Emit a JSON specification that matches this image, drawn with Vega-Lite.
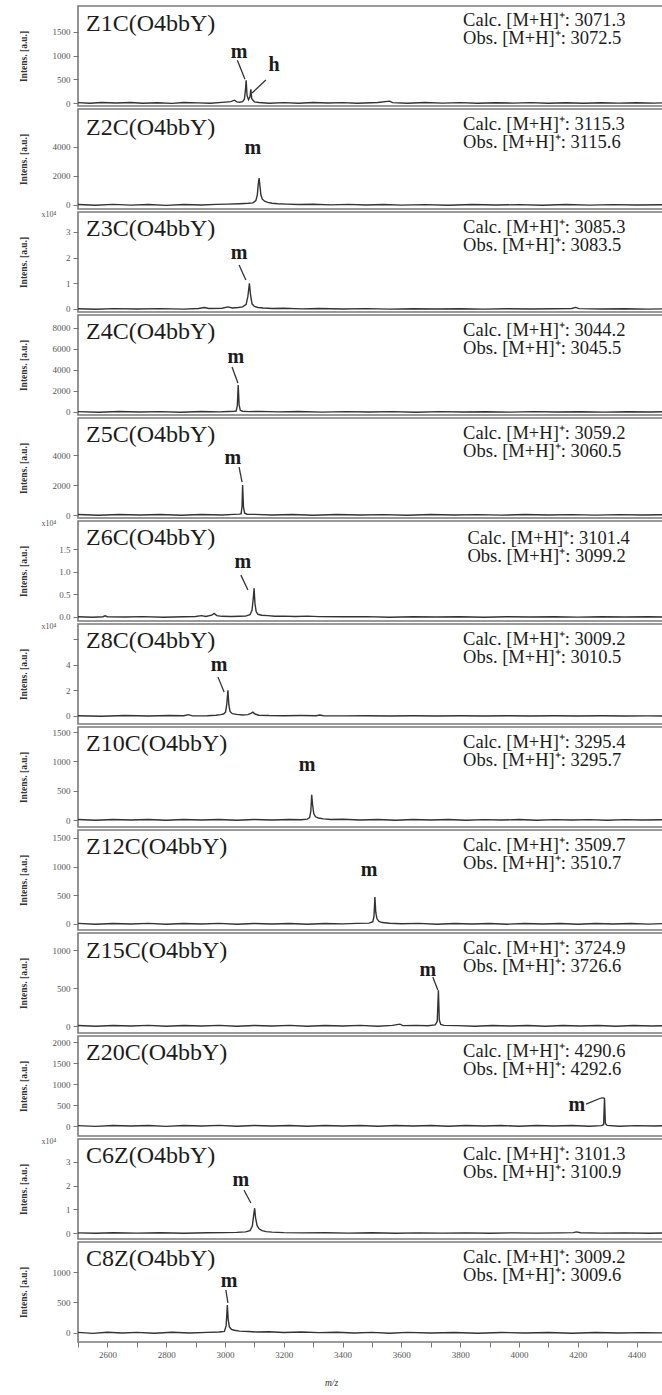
{
  "$schema": "https://vega.github.io/schema/vega-lite/v6.json",
  "padding": {"left": 17, "top": 5, "right": 0, "bottom": 0},
  "background": "white",
  "bounds": "flush",
  "spacing": 3,
  "datasets": {
    "info": [
      {"p": "Z1C", "name": "Z1C(O4bbY)", "calc": "Calc. [M+H]⁺: 3071.3", "obs": "Obs. [M+H]⁺: 3072.5", "exp": ""},
      {"p": "Z2C", "name": "Z2C(O4bbY)", "calc": "Calc. [M+H]⁺: 3115.3", "obs": "Obs. [M+H]⁺: 3115.6", "exp": ""},
      {"p": "Z3C", "name": "Z3C(O4bbY)", "calc": "Calc. [M+H]⁺: 3085.3", "obs": "Obs. [M+H]⁺: 3083.5", "exp": "x10⁴"},
      {"p": "Z4C", "name": "Z4C(O4bbY)", "calc": "Calc. [M+H]⁺: 3044.2", "obs": "Obs. [M+H]⁺: 3045.5", "exp": ""},
      {"p": "Z5C", "name": "Z5C(O4bbY)", "calc": "Calc. [M+H]⁺: 3059.2", "obs": "Obs. [M+H]⁺: 3060.5", "exp": ""},
      {"p": "Z6C", "name": "Z6C(O4bbY)", "calc": "Calc. [M+H]⁺: 3101.4", "obs": "Obs. [M+H]⁺: 3099.2", "exp": "x10⁴"},
      {"p": "Z8C", "name": "Z8C(O4bbY)", "calc": "Calc. [M+H]⁺: 3009.2", "obs": "Obs. [M+H]⁺: 3010.5", "exp": "x10⁴"},
      {"p": "Z10C", "name": "Z10C(O4bbY)", "calc": "Calc. [M+H]⁺: 3295.4", "obs": "Obs. [M+H]⁺: 3295.7", "exp": ""},
      {"p": "Z12C", "name": "Z12C(O4bbY)", "calc": "Calc. [M+H]⁺: 3509.7", "obs": "Obs. [M+H]⁺: 3510.7", "exp": ""},
      {"p": "Z15C", "name": "Z15C(O4bbY)", "calc": "Calc. [M+H]⁺: 3724.9", "obs": "Obs. [M+H]⁺: 3726.6", "exp": ""},
      {"p": "Z20C", "name": "Z20C(O4bbY)", "calc": "Calc. [M+H]⁺: 4290.6", "obs": "Obs. [M+H]⁺: 4292.6", "exp": ""},
      {"p": "C6Z", "name": "C6Z(O4bbY)", "calc": "Calc. [M+H]⁺: 3101.3", "obs": "Obs. [M+H]⁺: 3100.9", "exp": "x10⁴"},
      {"p": "C8Z", "name": "C8Z(O4bbY)", "calc": "Calc. [M+H]⁺: 3009.2", "obs": "Obs. [M+H]⁺: 3009.6", "exp": ""}
    ],
    "lab": [
      {"p": "Z1C", "t": "m", "mz": 3048, "i": 1076},
      {"p": "Z1C", "t": "h", "mz": 3167, "i": 802},
      {"p": "Z2C", "t": "m", "mz": 3095, "i": 3931},
      {"p": "Z3C", "t": "m", "mz": 3048, "i": 2.18},
      {"p": "Z4C", "t": "m", "mz": 3037, "i": 5238},
      {"p": "Z5C", "t": "m", "mz": 3027, "i": 3800},
      {"p": "Z6C", "t": "m", "mz": 3061, "i": 1.22},
      {"p": "Z8C", "t": "m", "mz": 2980, "i": 4.0},
      {"p": "Z10C", "t": "m", "mz": 3279, "i": 939},
      {"p": "Z12C", "t": "m", "mz": 3490, "i": 941},
      {"p": "Z15C", "t": "m", "mz": 3690, "i": 737},
      {"p": "Z20C", "t": "m", "mz": 4197, "i": 500},
      {"p": "C6Z", "t": "m", "mz": 3054, "i": 2.24},
      {"p": "C8Z", "t": "m", "mz": 3014, "i": 852}
    ],
    "lead": [
      {"p": "Z1C", "mz": 3042, "i": 900, "mz2": 3068, "i2": 500},
      {"p": "Z1C", "mz": 3139, "i": 485, "mz2": 3092, "i2": 211},
      {"p": "Z3C", "mz": 3048, "i": 1.71, "mz2": 3071, "i2": 1.13},
      {"p": "Z4C", "mz": 3024, "i": 4286, "mz2": 3044, "i2": 2762},
      {"p": "Z5C", "mz": 3048, "i": 3200, "mz2": 3058, "i2": 2200},
      {"p": "Z6C", "mz": 3054, "i": 0.93, "mz2": 3078, "i2": 0.6},
      {"p": "Z8C", "mz": 2976, "i": 3.06, "mz2": 2997, "i2": 1.88},
      {"p": "Z15C", "mz": 3707, "i": 645, "mz2": 3724, "i2": 474},
      {"p": "Z20C", "mz": 4228, "i": 520, "mz2": 4279, "i2": 667},
      {"p": "Z20C", "mz": 4279, "i": 667, "mz2": 4291, "i2": 667},
      {"p": "C6Z", "mz": 3065, "i": 1.81, "mz2": 3088, "i2": 1.27},
      {"p": "C8Z", "mz": 3003, "i": 705, "mz2": 3010, "i2": 492}
    ],
    "spec": [
      {"p":"Z1C","mz":2500,"i":8},{"p":"Z1C","mz":2540,"i":-5},{"p":"Z1C","mz":2580,"i":10},{"p":"Z1C","mz":2630,"i":0},{"p":"Z1C","mz":2680,"i":12},{"p":"Z1C","mz":2720,"i":-4},{"p":"Z1C","mz":2770,"i":6},{"p":"Z1C","mz":2820,"i":-8},{"p":"Z1C","mz":2860,"i":10},{"p":"Z1C","mz":2910,"i":2},{"p":"Z1C","mz":2950,"i":-6},{"p":"Z1C","mz":2990,"i":14},{"p":"Z1C","mz":3020,"i":30},{"p":"Z1C","mz":3032,"i":60},{"p":"Z1C","mz":3040,"i":25},{"p":"Z1C","mz":3050,"i":15},{"p":"Z1C","mz":3060,"i":30},{"p":"Z1C","mz":3066,"i":80},{"p":"Z1C","mz":3070,"i":300},{"p":"Z1C","mz":3072,"i":480},{"p":"Z1C","mz":3075,"i":160},{"p":"Z1C","mz":3080,"i":70},{"p":"Z1C","mz":3085,"i":130},{"p":"Z1C","mz":3088,"i":290},{"p":"Z1C","mz":3091,"i":90},{"p":"Z1C","mz":3100,"i":25},{"p":"Z1C","mz":3115,"i":10},{"p":"Z1C","mz":3150,"i":-4},{"p":"Z1C","mz":3200,"i":8},{"p":"Z1C","mz":3250,"i":-6},{"p":"Z1C","mz":3300,"i":10},{"p":"Z1C","mz":3350,"i":0},{"p":"Z1C","mz":3400,"i":8},{"p":"Z1C","mz":3450,"i":-5},{"p":"Z1C","mz":3520,"i":12},{"p":"Z1C","mz":3560,"i":40},{"p":"Z1C","mz":3570,"i":8},{"p":"Z1C","mz":3620,"i":-5},{"p":"Z1C","mz":3680,"i":10},{"p":"Z1C","mz":3740,"i":-3},{"p":"Z1C","mz":3800,"i":8},{"p":"Z1C","mz":3860,"i":-6},{"p":"Z1C","mz":3920,"i":6},{"p":"Z1C","mz":3980,"i":-2},{"p":"Z1C","mz":4040,"i":8},{"p":"Z1C","mz":4100,"i":-5},{"p":"Z1C","mz":4160,"i":6},{"p":"Z1C","mz":4220,"i":-4},{"p":"Z1C","mz":4280,"i":7},{"p":"Z1C","mz":4340,"i":-3},{"p":"Z1C","mz":4400,"i":6},{"p":"Z1C","mz":4460,"i":-2},{"p":"Z1C","mz":4490,"i":4},

      {"p":"Z2C","mz":2500,"i":30},{"p":"Z2C","mz":2560,"i":-20},{"p":"Z2C","mz":2620,"i":40},{"p":"Z2C","mz":2680,"i":-10},{"p":"Z2C","mz":2740,"i":30},{"p":"Z2C","mz":2800,"i":-25},{"p":"Z2C","mz":2860,"i":35},{"p":"Z2C","mz":2920,"i":0},{"p":"Z2C","mz":2970,"i":40},{"p":"Z2C","mz":3010,"i":60},{"p":"Z2C","mz":3050,"i":90},{"p":"Z2C","mz":3080,"i":120},{"p":"Z2C","mz":3095,"i":150},{"p":"Z2C","mz":3105,"i":300},{"p":"Z2C","mz":3110,"i":700},{"p":"Z2C","mz":3113,"i":1400},{"p":"Z2C","mz":3116,"i":1860},{"p":"Z2C","mz":3119,"i":1300},{"p":"Z2C","mz":3122,"i":700},{"p":"Z2C","mz":3127,"i":400},{"p":"Z2C","mz":3135,"i":260},{"p":"Z2C","mz":3145,"i":180},{"p":"Z2C","mz":3160,"i":120},{"p":"Z2C","mz":3180,"i":90},{"p":"Z2C","mz":3210,"i":60},{"p":"Z2C","mz":3250,"i":30},{"p":"Z2C","mz":3300,"i":50},{"p":"Z2C","mz":3360,"i":10},{"p":"Z2C","mz":3420,"i":40},{"p":"Z2C","mz":3480,"i":0},{"p":"Z2C","mz":3540,"i":30},{"p":"Z2C","mz":3600,"i":-10},{"p":"Z2C","mz":3680,"i":25},{"p":"Z2C","mz":3760,"i":-15},{"p":"Z2C","mz":3840,"i":30},{"p":"Z2C","mz":3920,"i":-5},{"p":"Z2C","mz":4000,"i":25},{"p":"Z2C","mz":4080,"i":-20},{"p":"Z2C","mz":4160,"i":30},{"p":"Z2C","mz":4240,"i":-10},{"p":"Z2C","mz":4320,"i":25},{"p":"Z2C","mz":4400,"i":-5},{"p":"Z2C","mz":4490,"i":20},

      {"p":"Z3C","mz":2500,"i":0.01},{"p":"Z3C","mz":2560,"i":-0.01},{"p":"Z3C","mz":2620,"i":0.015},{"p":"Z3C","mz":2700,"i":0},{"p":"Z3C","mz":2780,"i":0.015},{"p":"Z3C","mz":2860,"i":-0.005},{"p":"Z3C","mz":2910,"i":0.02},{"p":"Z3C","mz":2930,"i":0.06},{"p":"Z3C","mz":2945,"i":0.02},{"p":"Z3C","mz":2990,"i":0.03},{"p":"Z3C","mz":3010,"i":0.08},{"p":"Z3C","mz":3025,"i":0.04},{"p":"Z3C","mz":3045,"i":0.06},{"p":"Z3C","mz":3060,"i":0.08},{"p":"Z3C","mz":3072,"i":0.18},{"p":"Z3C","mz":3078,"i":0.5},{"p":"Z3C","mz":3083,"i":1.0},{"p":"Z3C","mz":3087,"i":0.55},{"p":"Z3C","mz":3092,"i":0.2},{"p":"Z3C","mz":3100,"i":0.1},{"p":"Z3C","mz":3112,"i":0.06},{"p":"Z3C","mz":3130,"i":0.04},{"p":"Z3C","mz":3160,"i":0.02},{"p":"Z3C","mz":3200,"i":0.03},{"p":"Z3C","mz":3260,"i":0.005},{"p":"Z3C","mz":3320,"i":0.02},{"p":"Z3C","mz":3400,"i":0},{"p":"Z3C","mz":3480,"i":0.015},{"p":"Z3C","mz":3560,"i":-0.005},{"p":"Z3C","mz":3640,"i":0.012},{"p":"Z3C","mz":3720,"i":0},{"p":"Z3C","mz":3800,"i":0.01},{"p":"Z3C","mz":3880,"i":-0.005},{"p":"Z3C","mz":3960,"i":0.01},{"p":"Z3C","mz":4040,"i":0},{"p":"Z3C","mz":4120,"i":0.01},{"p":"Z3C","mz":4180,"i":0.02},{"p":"Z3C","mz":4192,"i":0.06},{"p":"Z3C","mz":4205,"i":0.015},{"p":"Z3C","mz":4280,"i":0},{"p":"Z3C","mz":4360,"i":0.01},{"p":"Z3C","mz":4440,"i":-0.005},{"p":"Z3C","mz":4490,"i":0.005},

      {"p":"Z4C","mz":2500,"i":40},{"p":"Z4C","mz":2570,"i":-20},{"p":"Z4C","mz":2640,"i":50},{"p":"Z4C","mz":2710,"i":0},{"p":"Z4C","mz":2780,"i":40},{"p":"Z4C","mz":2850,"i":-25},{"p":"Z4C","mz":2920,"i":45},{"p":"Z4C","mz":2980,"i":10},{"p":"Z4C","mz":3010,"i":50},{"p":"Z4C","mz":3030,"i":70},{"p":"Z4C","mz":3038,"i":90},{"p":"Z4C","mz":3042,"i":600},{"p":"Z4C","mz":3045,"i":2570},{"p":"Z4C","mz":3048,"i":700},{"p":"Z4C","mz":3052,"i":160},{"p":"Z4C","mz":3060,"i":70},{"p":"Z4C","mz":3080,"i":40},{"p":"Z4C","mz":3120,"i":60},{"p":"Z4C","mz":3180,"i":10},{"p":"Z4C","mz":3250,"i":45},{"p":"Z4C","mz":3330,"i":-15},{"p":"Z4C","mz":3410,"i":40},{"p":"Z4C","mz":3490,"i":0},{"p":"Z4C","mz":3570,"i":35},{"p":"Z4C","mz":3650,"i":-20},{"p":"Z4C","mz":3730,"i":40},{"p":"Z4C","mz":3810,"i":0},{"p":"Z4C","mz":3890,"i":30},{"p":"Z4C","mz":3970,"i":-15},{"p":"Z4C","mz":4050,"i":35},{"p":"Z4C","mz":4130,"i":0},{"p":"Z4C","mz":4210,"i":30},{"p":"Z4C","mz":4290,"i":-15},{"p":"Z4C","mz":4370,"i":30},{"p":"Z4C","mz":4450,"i":0},{"p":"Z4C","mz":4490,"i":20},

      {"p":"Z5C","mz":2500,"i":30},{"p":"Z5C","mz":2570,"i":-15},{"p":"Z5C","mz":2640,"i":35},{"p":"Z5C","mz":2710,"i":0},{"p":"Z5C","mz":2780,"i":30},{"p":"Z5C","mz":2850,"i":-20},{"p":"Z5C","mz":2920,"i":35},{"p":"Z5C","mz":2990,"i":5},{"p":"Z5C","mz":3030,"i":40},{"p":"Z5C","mz":3050,"i":60},{"p":"Z5C","mz":3055,"i":90},{"p":"Z5C","mz":3058,"i":600},{"p":"Z5C","mz":3060,"i":2000},{"p":"Z5C","mz":3063,"i":500},{"p":"Z5C","mz":3067,"i":120},{"p":"Z5C","mz":3075,"i":50},{"p":"Z5C","mz":3100,"i":40},{"p":"Z5C","mz":3160,"i":0},{"p":"Z5C","mz":3230,"i":30},{"p":"Z5C","mz":3300,"i":-15},{"p":"Z5C","mz":3380,"i":30},{"p":"Z5C","mz":3460,"i":0},{"p":"Z5C","mz":3540,"i":25},{"p":"Z5C","mz":3620,"i":-15},{"p":"Z5C","mz":3700,"i":30},{"p":"Z5C","mz":3780,"i":0},{"p":"Z5C","mz":3860,"i":25},{"p":"Z5C","mz":3940,"i":-10},{"p":"Z5C","mz":4020,"i":30},{"p":"Z5C","mz":4100,"i":0},{"p":"Z5C","mz":4180,"i":25},{"p":"Z5C","mz":4260,"i":-10},{"p":"Z5C","mz":4340,"i":25},{"p":"Z5C","mz":4420,"i":0},{"p":"Z5C","mz":4490,"i":15},

      {"p":"Z6C","mz":2500,"i":0.005},{"p":"Z6C","mz":2550,"i":-0.004},{"p":"Z6C","mz":2585,"i":0.006},{"p":"Z6C","mz":2592,"i":0.025},{"p":"Z6C","mz":2600,"i":0.005},{"p":"Z6C","mz":2660,"i":0},{"p":"Z6C","mz":2720,"i":0.008},{"p":"Z6C","mz":2790,"i":-0.004},{"p":"Z6C","mz":2860,"i":0.006},{"p":"Z6C","mz":2900,"i":0.01},{"p":"Z6C","mz":2920,"i":0.03},{"p":"Z6C","mz":2935,"i":0.01},{"p":"Z6C","mz":2955,"i":0.04},{"p":"Z6C","mz":2963,"i":0.08},{"p":"Z6C","mz":2972,"i":0.03},{"p":"Z6C","mz":2990,"i":0.015},{"p":"Z6C","mz":3020,"i":0.01},{"p":"Z6C","mz":3050,"i":0.015},{"p":"Z6C","mz":3070,"i":0.02},{"p":"Z6C","mz":3085,"i":0.05},{"p":"Z6C","mz":3092,"i":0.15},{"p":"Z6C","mz":3096,"i":0.4},{"p":"Z6C","mz":3099,"i":0.64},{"p":"Z6C","mz":3102,"i":0.3},{"p":"Z6C","mz":3106,"i":0.12},{"p":"Z6C","mz":3112,"i":0.06},{"p":"Z6C","mz":3125,"i":0.04},{"p":"Z6C","mz":3145,"i":0.03},{"p":"Z6C","mz":3170,"i":0.015},{"p":"Z6C","mz":3200,"i":0.02},{"p":"Z6C","mz":3240,"i":0.01},{"p":"Z6C","mz":3280,"i":0.02},{"p":"Z6C","mz":3320,"i":0.008},{"p":"Z6C","mz":3400,"i":0.005},{"p":"Z6C","mz":3480,"i":0.008},{"p":"Z6C","mz":3560,"i":-0.004},{"p":"Z6C","mz":3640,"i":0.006},{"p":"Z6C","mz":3720,"i":0},{"p":"Z6C","mz":3800,"i":0.006},{"p":"Z6C","mz":3880,"i":-0.004},{"p":"Z6C","mz":3960,"i":0.006},{"p":"Z6C","mz":4040,"i":0},{"p":"Z6C","mz":4120,"i":0.006},{"p":"Z6C","mz":4200,"i":-0.003},{"p":"Z6C","mz":4280,"i":0.005},{"p":"Z6C","mz":4360,"i":0},{"p":"Z6C","mz":4440,"i":0.005},{"p":"Z6C","mz":4490,"i":0},

      {"p":"Z8C","mz":2500,"i":0.02},{"p":"Z8C","mz":2580,"i":-0.02},{"p":"Z8C","mz":2660,"i":0.03},{"p":"Z8C","mz":2740,"i":0},{"p":"Z8C","mz":2810,"i":0.03},{"p":"Z8C","mz":2860,"i":0.02},{"p":"Z8C","mz":2875,"i":0.1},{"p":"Z8C","mz":2890,"i":0.01},{"p":"Z8C","mz":2940,"i":0.02},{"p":"Z8C","mz":2970,"i":0.05},{"p":"Z8C","mz":2985,"i":0.1},{"p":"Z8C","mz":2995,"i":0.15},{"p":"Z8C","mz":3002,"i":0.3},{"p":"Z8C","mz":3006,"i":0.9},{"p":"Z8C","mz":3010,"i":2.0},{"p":"Z8C","mz":3013,"i":0.9},{"p":"Z8C","mz":3017,"i":0.35},{"p":"Z8C","mz":3025,"i":0.18},{"p":"Z8C","mz":3040,"i":0.12},{"p":"Z8C","mz":3060,"i":0.08},{"p":"Z8C","mz":3078,"i":0.1},{"p":"Z8C","mz":3088,"i":0.2},{"p":"Z8C","mz":3095,"i":0.3},{"p":"Z8C","mz":3102,"i":0.15},{"p":"Z8C","mz":3115,"i":0.06},{"p":"Z8C","mz":3150,"i":0.03},{"p":"Z8C","mz":3200,"i":0.02},{"p":"Z8C","mz":3260,"i":0.03},{"p":"Z8C","mz":3310,"i":0.02},{"p":"Z8C","mz":3322,"i":0.07},{"p":"Z8C","mz":3335,"i":0.02},{"p":"Z8C","mz":3400,"i":0.01},{"p":"Z8C","mz":3480,"i":0.02},{"p":"Z8C","mz":3560,"i":0},{"p":"Z8C","mz":3640,"i":0.02},{"p":"Z8C","mz":3720,"i":0},{"p":"Z8C","mz":3800,"i":0.015},{"p":"Z8C","mz":3880,"i":0},{"p":"Z8C","mz":3960,"i":0.02},{"p":"Z8C","mz":4040,"i":0},{"p":"Z8C","mz":4120,"i":0.015},{"p":"Z8C","mz":4200,"i":0},{"p":"Z8C","mz":4280,"i":0.02},{"p":"Z8C","mz":4360,"i":0},{"p":"Z8C","mz":4440,"i":0.01},{"p":"Z8C","mz":4490,"i":0},

      {"p":"Z10C","mz":2500,"i":8},{"p":"Z10C","mz":2560,"i":-5},{"p":"Z10C","mz":2620,"i":10},{"p":"Z10C","mz":2680,"i":0},{"p":"Z10C","mz":2740,"i":8},{"p":"Z10C","mz":2800,"i":-5},{"p":"Z10C","mz":2860,"i":10},{"p":"Z10C","mz":2920,"i":0},{"p":"Z10C","mz":2980,"i":8},{"p":"Z10C","mz":3040,"i":-3},{"p":"Z10C","mz":3100,"i":9},{"p":"Z10C","mz":3160,"i":0},{"p":"Z10C","mz":3220,"i":8},{"p":"Z10C","mz":3260,"i":5},{"p":"Z10C","mz":3280,"i":15},{"p":"Z10C","mz":3288,"i":40},{"p":"Z10C","mz":3292,"i":150},{"p":"Z10C","mz":3295,"i":430},{"p":"Z10C","mz":3298,"i":260},{"p":"Z10C","mz":3302,"i":110},{"p":"Z10C","mz":3308,"i":55},{"p":"Z10C","mz":3318,"i":35},{"p":"Z10C","mz":3335,"i":20},{"p":"Z10C","mz":3360,"i":10},{"p":"Z10C","mz":3400,"i":12},{"p":"Z10C","mz":3460,"i":0},{"p":"Z10C","mz":3520,"i":8},{"p":"Z10C","mz":3580,"i":-5},{"p":"Z10C","mz":3640,"i":8},{"p":"Z10C","mz":3700,"i":0},{"p":"Z10C","mz":3760,"i":8},{"p":"Z10C","mz":3820,"i":-5},{"p":"Z10C","mz":3880,"i":7},{"p":"Z10C","mz":3940,"i":0},{"p":"Z10C","mz":4000,"i":8},{"p":"Z10C","mz":4060,"i":-4},{"p":"Z10C","mz":4120,"i":7},{"p":"Z10C","mz":4180,"i":0},{"p":"Z10C","mz":4240,"i":7},{"p":"Z10C","mz":4300,"i":-4},{"p":"Z10C","mz":4360,"i":6},{"p":"Z10C","mz":4420,"i":0},{"p":"Z10C","mz":4490,"i":5},

      {"p":"Z12C","mz":2500,"i":10},{"p":"Z12C","mz":2560,"i":-4},{"p":"Z12C","mz":2620,"i":9},{"p":"Z12C","mz":2680,"i":0},{"p":"Z12C","mz":2740,"i":10},{"p":"Z12C","mz":2800,"i":-5},{"p":"Z12C","mz":2860,"i":9},{"p":"Z12C","mz":2920,"i":0},{"p":"Z12C","mz":2980,"i":10},{"p":"Z12C","mz":3040,"i":-4},{"p":"Z12C","mz":3100,"i":9},{"p":"Z12C","mz":3160,"i":0},{"p":"Z12C","mz":3220,"i":9},{"p":"Z12C","mz":3280,"i":-4},{"p":"Z12C","mz":3340,"i":9},{"p":"Z12C","mz":3400,"i":2},{"p":"Z12C","mz":3450,"i":10},{"p":"Z12C","mz":3490,"i":15},{"p":"Z12C","mz":3503,"i":40},{"p":"Z12C","mz":3507,"i":140},{"p":"Z12C","mz":3510,"i":470},{"p":"Z12C","mz":3513,"i":200},{"p":"Z12C","mz":3517,"i":90},{"p":"Z12C","mz":3524,"i":45},{"p":"Z12C","mz":3535,"i":25},{"p":"Z12C","mz":3560,"i":12},{"p":"Z12C","mz":3600,"i":5},{"p":"Z12C","mz":3660,"i":10},{"p":"Z12C","mz":3720,"i":-4},{"p":"Z12C","mz":3780,"i":9},{"p":"Z12C","mz":3840,"i":0},{"p":"Z12C","mz":3900,"i":9},{"p":"Z12C","mz":3960,"i":-4},{"p":"Z12C","mz":4020,"i":9},{"p":"Z12C","mz":4080,"i":0},{"p":"Z12C","mz":4140,"i":8},{"p":"Z12C","mz":4200,"i":-4},{"p":"Z12C","mz":4260,"i":9},{"p":"Z12C","mz":4320,"i":0},{"p":"Z12C","mz":4380,"i":8},{"p":"Z12C","mz":4440,"i":-3},{"p":"Z12C","mz":4490,"i":6},

      {"p":"Z15C","mz":2500,"i":6},{"p":"Z15C","mz":2560,"i":-4},{"p":"Z15C","mz":2620,"i":7},{"p":"Z15C","mz":2680,"i":0},{"p":"Z15C","mz":2740,"i":8},{"p":"Z15C","mz":2800,"i":-3},{"p":"Z15C","mz":2860,"i":7},{"p":"Z15C","mz":2920,"i":0},{"p":"Z15C","mz":2980,"i":8},{"p":"Z15C","mz":3040,"i":-4},{"p":"Z15C","mz":3100,"i":7},{"p":"Z15C","mz":3160,"i":0},{"p":"Z15C","mz":3220,"i":8},{"p":"Z15C","mz":3280,"i":-4},{"p":"Z15C","mz":3340,"i":7},{"p":"Z15C","mz":3400,"i":0},{"p":"Z15C","mz":3460,"i":8},{"p":"Z15C","mz":3520,"i":-3},{"p":"Z15C","mz":3570,"i":8},{"p":"Z15C","mz":3595,"i":25},{"p":"Z15C","mz":3605,"i":5},{"p":"Z15C","mz":3650,"i":8},{"p":"Z15C","mz":3690,"i":3},{"p":"Z15C","mz":3715,"i":15},{"p":"Z15C","mz":3722,"i":60},{"p":"Z15C","mz":3726,"i":470},{"p":"Z15C","mz":3729,"i":80},{"p":"Z15C","mz":3734,"i":20},{"p":"Z15C","mz":3745,"i":8},{"p":"Z15C","mz":3790,"i":5},{"p":"Z15C","mz":3850,"i":-3},{"p":"Z15C","mz":3910,"i":7},{"p":"Z15C","mz":3970,"i":0},{"p":"Z15C","mz":4030,"i":7},{"p":"Z15C","mz":4090,"i":-3},{"p":"Z15C","mz":4150,"i":7},{"p":"Z15C","mz":4210,"i":0},{"p":"Z15C","mz":4270,"i":6},{"p":"Z15C","mz":4330,"i":-3},{"p":"Z15C","mz":4390,"i":6},{"p":"Z15C","mz":4450,"i":0},{"p":"Z15C","mz":4490,"i":4},

      {"p":"Z20C","mz":2500,"i":10},{"p":"Z20C","mz":2560,"i":-8},{"p":"Z20C","mz":2620,"i":12},{"p":"Z20C","mz":2680,"i":0},{"p":"Z20C","mz":2740,"i":12},{"p":"Z20C","mz":2800,"i":-8},{"p":"Z20C","mz":2860,"i":12},{"p":"Z20C","mz":2920,"i":0},{"p":"Z20C","mz":2980,"i":14},{"p":"Z20C","mz":3040,"i":-6},{"p":"Z20C","mz":3100,"i":12},{"p":"Z20C","mz":3160,"i":0},{"p":"Z20C","mz":3220,"i":12},{"p":"Z20C","mz":3280,"i":-6},{"p":"Z20C","mz":3340,"i":12},{"p":"Z20C","mz":3400,"i":0},{"p":"Z20C","mz":3460,"i":12},{"p":"Z20C","mz":3520,"i":-6},{"p":"Z20C","mz":3580,"i":12},{"p":"Z20C","mz":3640,"i":0},{"p":"Z20C","mz":3700,"i":12},{"p":"Z20C","mz":3760,"i":-6},{"p":"Z20C","mz":3820,"i":12},{"p":"Z20C","mz":3880,"i":0},{"p":"Z20C","mz":3940,"i":12},{"p":"Z20C","mz":4000,"i":-6},{"p":"Z20C","mz":4060,"i":12},{"p":"Z20C","mz":4120,"i":0},{"p":"Z20C","mz":4180,"i":12},{"p":"Z20C","mz":4240,"i":-5},{"p":"Z20C","mz":4280,"i":10},{"p":"Z20C","mz":4288,"i":30},{"p":"Z20C","mz":4291,"i":667},{"p":"Z20C","mz":4294,"i":60},{"p":"Z20C","mz":4300,"i":15},{"p":"Z20C","mz":4340,"i":-5},{"p":"Z20C","mz":4400,"i":10},{"p":"Z20C","mz":4460,"i":0},{"p":"Z20C","mz":4490,"i":8},

      {"p":"C6Z","mz":2500,"i":0.01},{"p":"C6Z","mz":2560,"i":-0.01},{"p":"C6Z","mz":2620,"i":0.015},{"p":"C6Z","mz":2700,"i":0},{"p":"C6Z","mz":2780,"i":0.015},{"p":"C6Z","mz":2860,"i":-0.005},{"p":"C6Z","mz":2940,"i":0.015},{"p":"C6Z","mz":3000,"i":0.02},{"p":"C6Z","mz":3040,"i":0.03},{"p":"C6Z","mz":3070,"i":0.05},{"p":"C6Z","mz":3085,"i":0.1},{"p":"C6Z","mz":3093,"i":0.3},{"p":"C6Z","mz":3098,"i":0.8},{"p":"C6Z","mz":3101,"i":1.05},{"p":"C6Z","mz":3104,"i":0.65},{"p":"C6Z","mz":3109,"i":0.32},{"p":"C6Z","mz":3116,"i":0.18},{"p":"C6Z","mz":3126,"i":0.1},{"p":"C6Z","mz":3140,"i":0.06},{"p":"C6Z","mz":3160,"i":0.04},{"p":"C6Z","mz":3200,"i":0.02},{"p":"C6Z","mz":3260,"i":0.01},{"p":"C6Z","mz":3340,"i":0.015},{"p":"C6Z","mz":3420,"i":0},{"p":"C6Z","mz":3500,"i":0.012},{"p":"C6Z","mz":3580,"i":-0.005},{"p":"C6Z","mz":3660,"i":0.01},{"p":"C6Z","mz":3740,"i":0},{"p":"C6Z","mz":3820,"i":0.01},{"p":"C6Z","mz":3900,"i":-0.005},{"p":"C6Z","mz":3980,"i":0.01},{"p":"C6Z","mz":4060,"i":0},{"p":"C6Z","mz":4140,"i":0.01},{"p":"C6Z","mz":4185,"i":0.02},{"p":"C6Z","mz":4195,"i":0.05},{"p":"C6Z","mz":4210,"i":0.015},{"p":"C6Z","mz":4280,"i":0},{"p":"C6Z","mz":4360,"i":0.01},{"p":"C6Z","mz":4440,"i":-0.005},{"p":"C6Z","mz":4490,"i":0.005},

      {"p":"C8Z","mz":2500,"i":10},{"p":"C8Z","mz":2550,"i":-6},{"p":"C8Z","mz":2600,"i":12},{"p":"C8Z","mz":2650,"i":0},{"p":"C8Z","mz":2700,"i":10},{"p":"C8Z","mz":2760,"i":-5},{"p":"C8Z","mz":2820,"i":12},{"p":"C8Z","mz":2880,"i":0},{"p":"C8Z","mz":2940,"i":10},{"p":"C8Z","mz":2980,"i":15},{"p":"C8Z","mz":2998,"i":25},{"p":"C8Z","mz":3004,"i":120},{"p":"C8Z","mz":3008,"i":460},{"p":"C8Z","mz":3011,"i":220},{"p":"C8Z","mz":3015,"i":100},{"p":"C8Z","mz":3022,"i":60},{"p":"C8Z","mz":3032,"i":45},{"p":"C8Z","mz":3050,"i":30},{"p":"C8Z","mz":3080,"i":25},{"p":"C8Z","mz":3110,"i":15},{"p":"C8Z","mz":3150,"i":20},{"p":"C8Z","mz":3200,"i":8},{"p":"C8Z","mz":3260,"i":15},{"p":"C8Z","mz":3320,"i":5},{"p":"C8Z","mz":3380,"i":12},{"p":"C8Z","mz":3440,"i":0},{"p":"C8Z","mz":3500,"i":10},{"p":"C8Z","mz":3560,"i":-4},{"p":"C8Z","mz":3620,"i":10},{"p":"C8Z","mz":3700,"i":0},{"p":"C8Z","mz":3780,"i":8},{"p":"C8Z","mz":3860,"i":-4},{"p":"C8Z","mz":3940,"i":8},{"p":"C8Z","mz":4020,"i":0},{"p":"C8Z","mz":4100,"i":8},{"p":"C8Z","mz":4180,"i":-4},{"p":"C8Z","mz":4260,"i":8},{"p":"C8Z","mz":4340,"i":0},{"p":"C8Z","mz":4420,"i":6},{"p":"C8Z","mz":4490,"i":2}
    ]
  },
  "vconcat": [
    {"width": 585, "height": 100, "layer": [
      {"data": {"name": "spec"}, "transform": [{"filter": "datum.p === 'Z1C'"}], "mark": {"type": "line", "color": "#333", "strokeWidth": 1.4, "clip": true},
       "encoding": {"x": {"field": "mz", "type": "quantitative", "scale": {"domain": [2500, 4490], "nice": false, "zero": false}, "axis": null},
                    "y": {"field": "i", "type": "quantitative", "scale": {"domain": [-63, 2046], "nice": false, "zero": false}, "axis": {"title": "Intens. [a.u.]", "tickCount": 100, "labelOverlap": false, "values": [0, 500, 1000, 1500], "format": "d"}}}},
      {"data": {"name": "lead"}, "transform": [{"filter": "datum.p === 'Z1C'"}], "mark": {"type": "rule", "color": "#333", "strokeWidth": 1.3},
       "encoding": {"x": {"field": "mz", "type": "quantitative"}, "y": {"field": "i", "type": "quantitative"}, "x2": {"field": "mz2"}, "y2": {"field": "i2"}}},
      {"data": {"name": "lab"}, "transform": [{"filter": "datum.p === 'Z1C'"}], "mark": {"type": "text", "fontWeight": "bold", "fontSize": 20, "baseline": "middle"},
       "encoding": {"x": {"field": "mz", "type": "quantitative"}, "y": {"field": "i", "type": "quantitative"}, "text": {"field": "t"}}},
      {"data": {"name": "info"}, "transform": [{"filter": "datum.p === 'Z1C'"}], "mark": {"type": "text", "align": "left", "fontSize": 24, "dx": 8, "dy": 25},
       "encoding": {"x": {"datum": 2500, "type": "quantitative"}, "y": {"datum": 2046, "type": "quantitative"}, "text": {"field": "name"}}},
      {"data": {"name": "info"}, "transform": [{"filter": "datum.p === 'Z1C'"}], "mark": {"type": "text", "align": "left", "fontSize": 18.5, "dy": 20},
       "encoding": {"x": {"datum": 3810, "type": "quantitative"}, "y": {"datum": 2046, "type": "quantitative"}, "text": {"field": "calc"}}},
      {"data": {"name": "info"}, "transform": [{"filter": "datum.p === 'Z1C'"}], "mark": {"type": "text", "align": "left", "fontSize": 18.5, "dy": 38},
       "encoding": {"x": {"datum": 3810, "type": "quantitative"}, "y": {"datum": 2046, "type": "quantitative"}, "text": {"field": "obs"}}}
    ]},
    {"width": 585, "height": 100, "layer": [
      {"data": {"name": "spec"}, "transform": [{"filter": "datum.p === 'Z2C'"}], "mark": {"type": "line", "color": "#333", "strokeWidth": 1.4, "clip": true},
       "encoding": {"x": {"field": "mz", "type": "quantitative", "scale": {"domain": [2500, 4490], "nice": false, "zero": false}, "axis": null},
                    "y": {"field": "i", "type": "quantitative", "scale": {"domain": [-276, 6620], "nice": false, "zero": false}, "axis": {"title": "Intens. [a.u.]", "tickCount": 100, "labelOverlap": false, "values": [0, 2000, 4000], "format": "d"}}}},
      {"data": {"name": "lab"}, "transform": [{"filter": "datum.p === 'Z2C'"}], "mark": {"type": "text", "fontWeight": "bold", "fontSize": 20, "baseline": "middle"},
       "encoding": {"x": {"field": "mz", "type": "quantitative"}, "y": {"field": "i", "type": "quantitative"}, "text": {"field": "t"}}},
      {"data": {"name": "info"}, "transform": [{"filter": "datum.p === 'Z2C'"}], "mark": {"type": "text", "align": "left", "fontSize": 24, "dx": 8, "dy": 26},
       "encoding": {"x": {"datum": 2500, "type": "quantitative"}, "y": {"datum": 6620, "type": "quantitative"}, "text": {"field": "name"}}},
      {"data": {"name": "info"}, "transform": [{"filter": "datum.p === 'Z2C'"}], "mark": {"type": "text", "align": "left", "fontSize": 18.5, "dy": 21},
       "encoding": {"x": {"datum": 3810, "type": "quantitative"}, "y": {"datum": 6620, "type": "quantitative"}, "text": {"field": "calc"}}},
      {"data": {"name": "info"}, "transform": [{"filter": "datum.p === 'Z2C'"}], "mark": {"type": "text", "align": "left", "fontSize": 18.5, "dy": 39},
       "encoding": {"x": {"datum": 3810, "type": "quantitative"}, "y": {"datum": 6620, "type": "quantitative"}, "text": {"field": "obs"}}}
    ]},
    {"width": 585, "height": 100, "layer": [
      {"data": {"name": "spec"}, "transform": [{"filter": "datum.p === 'Z3C'"}], "mark": {"type": "line", "color": "#333", "strokeWidth": 1.4, "clip": true},
       "encoding": {"x": {"field": "mz", "type": "quantitative", "scale": {"domain": [2500, 4490], "nice": false, "zero": false}, "axis": null},
                    "y": {"field": "i", "type": "quantitative", "scale": {"domain": [-0.117, 3.77], "nice": false, "zero": false}, "axis": {"title": "Intens. [a.u.]", "tickCount": 100, "labelOverlap": false, "values": [0, 1, 2, 3], "format": "d"}}}},
      {"data": {"name": "lead"}, "transform": [{"filter": "datum.p === 'Z3C'"}], "mark": {"type": "rule", "color": "#333", "strokeWidth": 1.3},
       "encoding": {"x": {"field": "mz", "type": "quantitative"}, "y": {"field": "i", "type": "quantitative"}, "x2": {"field": "mz2"}, "y2": {"field": "i2"}}},
      {"data": {"name": "lab"}, "transform": [{"filter": "datum.p === 'Z3C'"}], "mark": {"type": "text", "fontWeight": "bold", "fontSize": 20, "baseline": "middle"},
       "encoding": {"x": {"field": "mz", "type": "quantitative"}, "y": {"field": "i", "type": "quantitative"}, "text": {"field": "t"}}},
      {"data": {"name": "info"}, "transform": [{"filter": "datum.p === 'Z3C'"}], "mark": {"type": "text", "align": "center", "fontSize": 8, "dx": -29, "dy": 5, "color": "#555"},
       "encoding": {"x": {"datum": 2500, "type": "quantitative"}, "y": {"datum": 3.77, "type": "quantitative"}, "text": {"field": "exp"}}},
      {"data": {"name": "info"}, "transform": [{"filter": "datum.p === 'Z3C'"}], "mark": {"type": "text", "align": "left", "fontSize": 24, "dx": 8, "dy": 24},
       "encoding": {"x": {"datum": 2500, "type": "quantitative"}, "y": {"datum": 3.77, "type": "quantitative"}, "text": {"field": "name"}}},
      {"data": {"name": "info"}, "transform": [{"filter": "datum.p === 'Z3C'"}], "mark": {"type": "text", "align": "left", "fontSize": 18.5, "dy": 21},
       "encoding": {"x": {"datum": 3810, "type": "quantitative"}, "y": {"datum": 3.77, "type": "quantitative"}, "text": {"field": "calc"}}},
      {"data": {"name": "info"}, "transform": [{"filter": "datum.p === 'Z3C'"}], "mark": {"type": "text", "align": "left", "fontSize": 18.5, "dy": 39},
       "encoding": {"x": {"datum": 3810, "type": "quantitative"}, "y": {"datum": 3.77, "type": "quantitative"}, "text": {"field": "obs"}}}
    ]},
    {"width": 585, "height": 100, "layer": [
      {"data": {"name": "spec"}, "transform": [{"filter": "datum.p === 'Z4C'"}], "mark": {"type": "line", "color": "#333", "strokeWidth": 1.4, "clip": true},
       "encoding": {"x": {"field": "mz", "type": "quantitative", "scale": {"domain": [2500, 4490], "nice": false, "zero": false}, "axis": null},
                    "y": {"field": "i", "type": "quantitative", "scale": {"domain": [-286, 9238], "nice": false, "zero": false}, "axis": {"title": "Intens. [a.u.]", "tickCount": 100, "labelOverlap": false, "values": [0, 2000, 4000, 6000, 8000], "format": "d"}}}},
      {"data": {"name": "lead"}, "transform": [{"filter": "datum.p === 'Z4C'"}], "mark": {"type": "rule", "color": "#333", "strokeWidth": 1.3},
       "encoding": {"x": {"field": "mz", "type": "quantitative"}, "y": {"field": "i", "type": "quantitative"}, "x2": {"field": "mz2"}, "y2": {"field": "i2"}}},
      {"data": {"name": "lab"}, "transform": [{"filter": "datum.p === 'Z4C'"}], "mark": {"type": "text", "fontWeight": "bold", "fontSize": 20, "baseline": "middle"},
       "encoding": {"x": {"field": "mz", "type": "quantitative"}, "y": {"field": "i", "type": "quantitative"}, "text": {"field": "t"}}},
      {"data": {"name": "info"}, "transform": [{"filter": "datum.p === 'Z4C'"}], "mark": {"type": "text", "align": "left", "fontSize": 24, "dx": 8, "dy": 24},
       "encoding": {"x": {"datum": 2500, "type": "quantitative"}, "y": {"datum": 9238, "type": "quantitative"}, "text": {"field": "name"}}},
      {"data": {"name": "info"}, "transform": [{"filter": "datum.p === 'Z4C'"}], "mark": {"type": "text", "align": "left", "fontSize": 18.5, "dy": 21},
       "encoding": {"x": {"datum": 3810, "type": "quantitative"}, "y": {"datum": 9238, "type": "quantitative"}, "text": {"field": "calc"}}},
      {"data": {"name": "info"}, "transform": [{"filter": "datum.p === 'Z4C'"}], "mark": {"type": "text", "align": "left", "fontSize": 18.5, "dy": 39},
       "encoding": {"x": {"datum": 3810, "type": "quantitative"}, "y": {"datum": 9238, "type": "quantitative"}, "text": {"field": "obs"}}}
    ]},
    {"width": 585, "height": 100, "layer": [
      {"data": {"name": "spec"}, "transform": [{"filter": "datum.p === 'Z5C'"}], "mark": {"type": "line", "color": "#333", "strokeWidth": 1.4, "clip": true},
       "encoding": {"x": {"field": "mz", "type": "quantitative", "scale": {"domain": [2500, 4490], "nice": false, "zero": false}, "axis": null},
                    "y": {"field": "i", "type": "quantitative", "scale": {"domain": [-200, 6467], "nice": false, "zero": false}, "axis": {"title": "Intens. [a.u.]", "tickCount": 100, "labelOverlap": false, "values": [0, 2000, 4000], "format": "d"}}}},
      {"data": {"name": "lead"}, "transform": [{"filter": "datum.p === 'Z5C'"}], "mark": {"type": "rule", "color": "#333", "strokeWidth": 1.3},
       "encoding": {"x": {"field": "mz", "type": "quantitative"}, "y": {"field": "i", "type": "quantitative"}, "x2": {"field": "mz2"}, "y2": {"field": "i2"}}},
      {"data": {"name": "lab"}, "transform": [{"filter": "datum.p === 'Z5C'"}], "mark": {"type": "text", "fontWeight": "bold", "fontSize": 20, "baseline": "middle"},
       "encoding": {"x": {"field": "mz", "type": "quantitative"}, "y": {"field": "i", "type": "quantitative"}, "text": {"field": "t"}}},
      {"data": {"name": "info"}, "transform": [{"filter": "datum.p === 'Z5C'"}], "mark": {"type": "text", "align": "left", "fontSize": 24, "dx": 8, "dy": 24},
       "encoding": {"x": {"datum": 2500, "type": "quantitative"}, "y": {"datum": 6467, "type": "quantitative"}, "text": {"field": "name"}}},
      {"data": {"name": "info"}, "transform": [{"filter": "datum.p === 'Z5C'"}], "mark": {"type": "text", "align": "left", "fontSize": 18.5, "dy": 21},
       "encoding": {"x": {"datum": 3810, "type": "quantitative"}, "y": {"datum": 6467, "type": "quantitative"}, "text": {"field": "calc"}}},
      {"data": {"name": "info"}, "transform": [{"filter": "datum.p === 'Z5C'"}], "mark": {"type": "text", "align": "left", "fontSize": 18.5, "dy": 39},
       "encoding": {"x": {"datum": 3810, "type": "quantitative"}, "y": {"datum": 6467, "type": "quantitative"}, "text": {"field": "obs"}}}
    ]},
    {"width": 585, "height": 100, "layer": [
      {"data": {"name": "spec"}, "transform": [{"filter": "datum.p === 'Z6C'"}], "mark": {"type": "line", "color": "#333", "strokeWidth": 1.4, "clip": true},
       "encoding": {"x": {"field": "mz", "type": "quantitative", "scale": {"domain": [2500, 4490], "nice": false, "zero": false}, "axis": null},
                    "y": {"field": "i", "type": "quantitative", "scale": {"domain": [-0.089, 2.133], "nice": false, "zero": false}, "axis": {"title": "Intens. [a.u.]", "tickCount": 100, "labelOverlap": false, "values": [0, 0.5, 1, 1.5], "format": ".1f"}}}},
      {"data": {"name": "lead"}, "transform": [{"filter": "datum.p === 'Z6C'"}], "mark": {"type": "rule", "color": "#333", "strokeWidth": 1.3},
       "encoding": {"x": {"field": "mz", "type": "quantitative"}, "y": {"field": "i", "type": "quantitative"}, "x2": {"field": "mz2"}, "y2": {"field": "i2"}}},
      {"data": {"name": "lab"}, "transform": [{"filter": "datum.p === 'Z6C'"}], "mark": {"type": "text", "fontWeight": "bold", "fontSize": 20, "baseline": "middle"},
       "encoding": {"x": {"field": "mz", "type": "quantitative"}, "y": {"field": "i", "type": "quantitative"}, "text": {"field": "t"}}},
      {"data": {"name": "info"}, "transform": [{"filter": "datum.p === 'Z6C'"}], "mark": {"type": "text", "align": "center", "fontSize": 8, "dx": -29, "dy": 5, "color": "#555"},
       "encoding": {"x": {"datum": 2500, "type": "quantitative"}, "y": {"datum": 2.133, "type": "quantitative"}, "text": {"field": "exp"}}},
      {"data": {"name": "info"}, "transform": [{"filter": "datum.p === 'Z6C'"}], "mark": {"type": "text", "align": "left", "fontSize": 24, "dx": 8, "dy": 24},
       "encoding": {"x": {"datum": 2500, "type": "quantitative"}, "y": {"datum": 2.133, "type": "quantitative"}, "text": {"field": "name"}}},
      {"data": {"name": "info"}, "transform": [{"filter": "datum.p === 'Z6C'"}], "mark": {"type": "text", "align": "left", "fontSize": 18.5, "dy": 23},
       "encoding": {"x": {"datum": 3825, "type": "quantitative"}, "y": {"datum": 2.133, "type": "quantitative"}, "text": {"field": "calc"}}},
      {"data": {"name": "info"}, "transform": [{"filter": "datum.p === 'Z6C'"}], "mark": {"type": "text", "align": "left", "fontSize": 18.5, "dy": 41},
       "encoding": {"x": {"datum": 3825, "type": "quantitative"}, "y": {"datum": 2.133, "type": "quantitative"}, "text": {"field": "obs"}}}
    ]},
    {"width": 585, "height": 100, "layer": [
      {"data": {"name": "spec"}, "transform": [{"filter": "datum.p === 'Z8C'"}], "mark": {"type": "line", "color": "#333", "strokeWidth": 1.4, "clip": true},
       "encoding": {"x": {"field": "mz", "type": "quantitative", "scale": {"domain": [2500, 4490], "nice": false, "zero": false}, "axis": null},
                    "y": {"field": "i", "type": "quantitative", "scale": {"domain": [-0.63, 7.2], "nice": false, "zero": false}, "axis": {"title": "Intens. [a.u.]", "tickCount": 100, "labelOverlap": false, "values": [0, 2, 4, 6], "format": "d", "labelExpr": "datum.value === 6 ? '' : datum.label"}}}},
      {"data": {"name": "lead"}, "transform": [{"filter": "datum.p === 'Z8C'"}], "mark": {"type": "rule", "color": "#333", "strokeWidth": 1.3},
       "encoding": {"x": {"field": "mz", "type": "quantitative"}, "y": {"field": "i", "type": "quantitative"}, "x2": {"field": "mz2"}, "y2": {"field": "i2"}}},
      {"data": {"name": "lab"}, "transform": [{"filter": "datum.p === 'Z8C'"}], "mark": {"type": "text", "fontWeight": "bold", "fontSize": 20, "baseline": "middle"},
       "encoding": {"x": {"field": "mz", "type": "quantitative"}, "y": {"field": "i", "type": "quantitative"}, "text": {"field": "t"}}},
      {"data": {"name": "info"}, "transform": [{"filter": "datum.p === 'Z8C'"}], "mark": {"type": "text", "align": "center", "fontSize": 8, "dx": -29, "dy": 5, "color": "#555"},
       "encoding": {"x": {"datum": 2500, "type": "quantitative"}, "y": {"datum": 7.2, "type": "quantitative"}, "text": {"field": "exp"}}},
      {"data": {"name": "info"}, "transform": [{"filter": "datum.p === 'Z8C'"}], "mark": {"type": "text", "align": "left", "fontSize": 24, "dx": 8, "dy": 24},
       "encoding": {"x": {"datum": 2500, "type": "quantitative"}, "y": {"datum": 7.2, "type": "quantitative"}, "text": {"field": "name"}}},
      {"data": {"name": "info"}, "transform": [{"filter": "datum.p === 'Z8C'"}], "mark": {"type": "text", "align": "left", "fontSize": 18.5, "dy": 21},
       "encoding": {"x": {"datum": 3810, "type": "quantitative"}, "y": {"datum": 7.2, "type": "quantitative"}, "text": {"field": "calc"}}},
      {"data": {"name": "info"}, "transform": [{"filter": "datum.p === 'Z8C'"}], "mark": {"type": "text", "align": "left", "fontSize": 18.5, "dy": 39},
       "encoding": {"x": {"datum": 3810, "type": "quantitative"}, "y": {"datum": 7.2, "type": "quantitative"}, "text": {"field": "obs"}}}
    ]},
    {"width": 585, "height": 100, "layer": [
      {"data": {"name": "spec"}, "transform": [{"filter": "datum.p === 'Z10C'"}], "mark": {"type": "line", "color": "#333", "strokeWidth": 1.4, "clip": true},
       "encoding": {"x": {"field": "mz", "type": "quantitative", "scale": {"domain": [2500, 4490], "nice": false, "zero": false}, "axis": null},
                    "y": {"field": "i", "type": "quantitative", "scale": {"domain": [-119, 1587], "nice": false, "zero": false}, "axis": {"title": "Intens. [a.u.]", "tickCount": 100, "labelOverlap": false, "values": [0, 500, 1000, 1500], "format": "d"}}}},
      {"data": {"name": "lab"}, "transform": [{"filter": "datum.p === 'Z10C'"}], "mark": {"type": "text", "fontWeight": "bold", "fontSize": 20, "baseline": "middle"},
       "encoding": {"x": {"field": "mz", "type": "quantitative"}, "y": {"field": "i", "type": "quantitative"}, "text": {"field": "t"}}},
      {"data": {"name": "info"}, "transform": [{"filter": "datum.p === 'Z10C'"}], "mark": {"type": "text", "align": "left", "fontSize": 24, "dx": 8, "dy": 24},
       "encoding": {"x": {"datum": 2500, "type": "quantitative"}, "y": {"datum": 1587, "type": "quantitative"}, "text": {"field": "name"}}},
      {"data": {"name": "info"}, "transform": [{"filter": "datum.p === 'Z10C'"}], "mark": {"type": "text", "align": "left", "fontSize": 18.5, "dy": 21},
       "encoding": {"x": {"datum": 3810, "type": "quantitative"}, "y": {"datum": 1587, "type": "quantitative"}, "text": {"field": "calc"}}},
      {"data": {"name": "info"}, "transform": [{"filter": "datum.p === 'Z10C'"}], "mark": {"type": "text", "align": "left", "fontSize": 18.5, "dy": 39},
       "encoding": {"x": {"datum": 3810, "type": "quantitative"}, "y": {"datum": 1587, "type": "quantitative"}, "text": {"field": "obs"}}}
    ]},
    {"width": 585, "height": 100, "layer": [
      {"data": {"name": "spec"}, "transform": [{"filter": "datum.p === 'Z12C'"}], "mark": {"type": "line", "color": "#333", "strokeWidth": 1.4, "clip": true},
       "encoding": {"x": {"field": "mz", "type": "quantitative", "scale": {"domain": [2500, 4490], "nice": false, "zero": false}, "axis": null},
                    "y": {"field": "i", "type": "quantitative", "scale": {"domain": [-105, 1638], "nice": false, "zero": false}, "axis": {"title": "Intens. [a.u.]", "tickCount": 100, "labelOverlap": false, "values": [0, 500, 1000, 1500], "format": "d"}}}},
      {"data": {"name": "lab"}, "transform": [{"filter": "datum.p === 'Z12C'"}], "mark": {"type": "text", "fontWeight": "bold", "fontSize": 20, "baseline": "middle"},
       "encoding": {"x": {"field": "mz", "type": "quantitative"}, "y": {"field": "i", "type": "quantitative"}, "text": {"field": "t"}}},
      {"data": {"name": "info"}, "transform": [{"filter": "datum.p === 'Z12C'"}], "mark": {"type": "text", "align": "left", "fontSize": 24, "dx": 8, "dy": 24},
       "encoding": {"x": {"datum": 2500, "type": "quantitative"}, "y": {"datum": 1638, "type": "quantitative"}, "text": {"field": "name"}}},
      {"data": {"name": "info"}, "transform": [{"filter": "datum.p === 'Z12C'"}], "mark": {"type": "text", "align": "left", "fontSize": 18.5, "dy": 21},
       "encoding": {"x": {"datum": 3810, "type": "quantitative"}, "y": {"datum": 1638, "type": "quantitative"}, "text": {"field": "calc"}}},
      {"data": {"name": "info"}, "transform": [{"filter": "datum.p === 'Z12C'"}], "mark": {"type": "text", "align": "left", "fontSize": 18.5, "dy": 39},
       "encoding": {"x": {"datum": 3810, "type": "quantitative"}, "y": {"datum": 1638, "type": "quantitative"}, "text": {"field": "obs"}}}
    ]},
    {"width": 585, "height": 100, "layer": [
      {"data": {"name": "spec"}, "transform": [{"filter": "datum.p === 'Z15C'"}], "mark": {"type": "line", "color": "#333", "strokeWidth": 1.4, "clip": true},
       "encoding": {"x": {"field": "mz", "type": "quantitative", "scale": {"domain": [2500, 4490], "nice": false, "zero": false}, "axis": null},
                    "y": {"field": "i", "type": "quantitative", "scale": {"domain": [-92, 1224], "nice": false, "zero": false}, "axis": {"title": "Intens. [a.u.]", "tickCount": 100, "labelOverlap": false, "values": [0, 500, 1000], "format": "d"}}}},
      {"data": {"name": "lead"}, "transform": [{"filter": "datum.p === 'Z15C'"}], "mark": {"type": "rule", "color": "#333", "strokeWidth": 1.3},
       "encoding": {"x": {"field": "mz", "type": "quantitative"}, "y": {"field": "i", "type": "quantitative"}, "x2": {"field": "mz2"}, "y2": {"field": "i2"}}},
      {"data": {"name": "lab"}, "transform": [{"filter": "datum.p === 'Z15C'"}], "mark": {"type": "text", "fontWeight": "bold", "fontSize": 20, "baseline": "middle"},
       "encoding": {"x": {"field": "mz", "type": "quantitative"}, "y": {"field": "i", "type": "quantitative"}, "text": {"field": "t"}}},
      {"data": {"name": "info"}, "transform": [{"filter": "datum.p === 'Z15C'"}], "mark": {"type": "text", "align": "left", "fontSize": 24, "dx": 8, "dy": 25},
       "encoding": {"x": {"datum": 2500, "type": "quantitative"}, "y": {"datum": 1224, "type": "quantitative"}, "text": {"field": "name"}}},
      {"data": {"name": "info"}, "transform": [{"filter": "datum.p === 'Z15C'"}], "mark": {"type": "text", "align": "left", "fontSize": 18.5, "dy": 21},
       "encoding": {"x": {"datum": 3810, "type": "quantitative"}, "y": {"datum": 1224, "type": "quantitative"}, "text": {"field": "calc"}}},
      {"data": {"name": "info"}, "transform": [{"filter": "datum.p === 'Z15C'"}], "mark": {"type": "text", "align": "left", "fontSize": 18.5, "dy": 39},
       "encoding": {"x": {"datum": 3810, "type": "quantitative"}, "y": {"datum": 1224, "type": "quantitative"}, "text": {"field": "obs"}}}
    ]},
    {"width": 585, "height": 100, "layer": [
      {"data": {"name": "spec"}, "transform": [{"filter": "datum.p === 'Z20C'"}], "mark": {"type": "line", "color": "#333", "strokeWidth": 1.4, "clip": true},
       "encoding": {"x": {"field": "mz", "type": "quantitative", "scale": {"domain": [2500, 4490], "nice": false, "zero": false}, "axis": null},
                    "y": {"field": "i", "type": "quantitative", "scale": {"domain": [-238, 2143], "nice": false, "zero": false}, "axis": {"title": "Intens. [a.u.]", "tickCount": 100, "labelOverlap": false, "values": [0, 500, 1000, 1500, 2000], "format": "d"}}}},
      {"data": {"name": "lead"}, "transform": [{"filter": "datum.p === 'Z20C'"}], "mark": {"type": "rule", "color": "#333", "strokeWidth": 1.3},
       "encoding": {"x": {"field": "mz", "type": "quantitative"}, "y": {"field": "i", "type": "quantitative"}, "x2": {"field": "mz2"}, "y2": {"field": "i2"}}},
      {"data": {"name": "lab"}, "transform": [{"filter": "datum.p === 'Z20C'"}], "mark": {"type": "text", "fontWeight": "bold", "fontSize": 20, "baseline": "middle"},
       "encoding": {"x": {"field": "mz", "type": "quantitative"}, "y": {"field": "i", "type": "quantitative"}, "text": {"field": "t"}}},
      {"data": {"name": "info"}, "transform": [{"filter": "datum.p === 'Z20C'"}], "mark": {"type": "text", "align": "left", "fontSize": 24, "dx": 8, "dy": 24},
       "encoding": {"x": {"datum": 2500, "type": "quantitative"}, "y": {"datum": 2143, "type": "quantitative"}, "text": {"field": "name"}}},
      {"data": {"name": "info"}, "transform": [{"filter": "datum.p === 'Z20C'"}], "mark": {"type": "text", "align": "left", "fontSize": 18.5, "dy": 21},
       "encoding": {"x": {"datum": 3810, "type": "quantitative"}, "y": {"datum": 2143, "type": "quantitative"}, "text": {"field": "calc"}}},
      {"data": {"name": "info"}, "transform": [{"filter": "datum.p === 'Z20C'"}], "mark": {"type": "text", "align": "left", "fontSize": 18.5, "dy": 39},
       "encoding": {"x": {"datum": 3810, "type": "quantitative"}, "y": {"datum": 2143, "type": "quantitative"}, "text": {"field": "obs"}}}
    ]},
    {"width": 585, "height": 100, "layer": [
      {"data": {"name": "spec"}, "transform": [{"filter": "datum.p === 'C6Z'"}], "mark": {"type": "line", "color": "#333", "strokeWidth": 1.4, "clip": true},
       "encoding": {"x": {"field": "mz", "type": "quantitative", "scale": {"domain": [2500, 4490], "nice": false, "zero": false}, "axis": null},
                    "y": {"field": "i", "type": "quantitative", "scale": {"domain": [-0.25, 3.97], "nice": false, "zero": false}, "axis": {"title": "Intens. [a.u.]", "tickCount": 100, "labelOverlap": false, "values": [0, 1, 2, 3], "format": "d"}}}},
      {"data": {"name": "lead"}, "transform": [{"filter": "datum.p === 'C6Z'"}], "mark": {"type": "rule", "color": "#333", "strokeWidth": 1.3},
       "encoding": {"x": {"field": "mz", "type": "quantitative"}, "y": {"field": "i", "type": "quantitative"}, "x2": {"field": "mz2"}, "y2": {"field": "i2"}}},
      {"data": {"name": "lab"}, "transform": [{"filter": "datum.p === 'C6Z'"}], "mark": {"type": "text", "fontWeight": "bold", "fontSize": 20, "baseline": "middle"},
       "encoding": {"x": {"field": "mz", "type": "quantitative"}, "y": {"field": "i", "type": "quantitative"}, "text": {"field": "t"}}},
      {"data": {"name": "info"}, "transform": [{"filter": "datum.p === 'C6Z'"}], "mark": {"type": "text", "align": "center", "fontSize": 8, "dx": -29, "dy": 5, "color": "#555"},
       "encoding": {"x": {"datum": 2500, "type": "quantitative"}, "y": {"datum": 3.97, "type": "quantitative"}, "text": {"field": "exp"}}},
      {"data": {"name": "info"}, "transform": [{"filter": "datum.p === 'C6Z'"}], "mark": {"type": "text", "align": "left", "fontSize": 24, "dx": 8, "dy": 24},
       "encoding": {"x": {"datum": 2500, "type": "quantitative"}, "y": {"datum": 3.97, "type": "quantitative"}, "text": {"field": "name"}}},
      {"data": {"name": "info"}, "transform": [{"filter": "datum.p === 'C6Z'"}], "mark": {"type": "text", "align": "left", "fontSize": 18.5, "dy": 21},
       "encoding": {"x": {"datum": 3810, "type": "quantitative"}, "y": {"datum": 3.97, "type": "quantitative"}, "text": {"field": "calc"}}},
      {"data": {"name": "info"}, "transform": [{"filter": "datum.p === 'C6Z'"}], "mark": {"type": "text", "align": "left", "fontSize": 18.5, "dy": 39},
       "encoding": {"x": {"datum": 3810, "type": "quantitative"}, "y": {"datum": 3.97, "type": "quantitative"}, "text": {"field": "obs"}}}
    ]},
    {"width": 585, "height": 100, "layer": [
      {"data": {"name": "spec"}, "transform": [{"filter": "datum.p === 'C8Z'"}], "mark": {"type": "line", "color": "#333", "strokeWidth": 1.4, "clip": true},
       "encoding": {"x": {"field": "mz", "type": "quantitative", "scale": {"domain": [2500, 4490], "nice": false, "zero": false},
                          "axis": {"values": [2500, 2600, 2700, 2800, 2900, 3000, 3100, 3200, 3300, 3400, 3500, 3600, 3700, 3800, 3900, 4000, 4100, 4200, 4300, 4400], "tickCount": 100, "labelOverlap": false,
                                   "labelExpr": "datum.value % 200 === 0 ? datum.label : ''", "format": "d", "title": "m/z", "titleFontStyle": "italic", "titleFontWeight": "normal", "titlePadding": 18, "titleX": 253, "titleAnchor": "middle"}},
                    "y": {"field": "i", "type": "quantitative", "scale": {"domain": [-148, 1492], "nice": false, "zero": false}, "axis": {"title": "Intens. [a.u.]", "tickCount": 100, "labelOverlap": false, "values": [0, 500, 1000], "format": "d"}}}},
      {"data": {"name": "lead"}, "transform": [{"filter": "datum.p === 'C8Z'"}], "mark": {"type": "rule", "color": "#333", "strokeWidth": 1.3},
       "encoding": {"x": {"field": "mz", "type": "quantitative"}, "y": {"field": "i", "type": "quantitative"}, "x2": {"field": "mz2"}, "y2": {"field": "i2"}}},
      {"data": {"name": "lab"}, "transform": [{"filter": "datum.p === 'C8Z'"}], "mark": {"type": "text", "fontWeight": "bold", "fontSize": 20, "baseline": "middle"},
       "encoding": {"x": {"field": "mz", "type": "quantitative"}, "y": {"field": "i", "type": "quantitative"}, "text": {"field": "t"}}},
      {"data": {"name": "info"}, "transform": [{"filter": "datum.p === 'C8Z'"}], "mark": {"type": "text", "align": "left", "fontSize": 24, "dx": 8, "dy": 24},
       "encoding": {"x": {"datum": 2500, "type": "quantitative"}, "y": {"datum": 1492, "type": "quantitative"}, "text": {"field": "name"}}},
      {"data": {"name": "info"}, "transform": [{"filter": "datum.p === 'C8Z'"}], "mark": {"type": "text", "align": "left", "fontSize": 18.5, "dy": 21},
       "encoding": {"x": {"datum": 3810, "type": "quantitative"}, "y": {"datum": 1492, "type": "quantitative"}, "text": {"field": "calc"}}},
      {"data": {"name": "info"}, "transform": [{"filter": "datum.p === 'C8Z'"}], "mark": {"type": "text", "align": "left", "fontSize": 18.5, "dy": 39},
       "encoding": {"x": {"datum": 3810, "type": "quantitative"}, "y": {"datum": 1492, "type": "quantitative"}, "text": {"field": "obs"}}}
    ]}
  ],
  "config": {
    "view": {"stroke": "#7a7a7a", "strokeWidth": 1.6},
    "text": {"font": "Liberation Serif", "color": "#1c1c1c", "baseline": "alphabetic"},
    "axis": {
      "grid": false, "domain": false, "labelOverlap": false,
      "labelFont": "Liberation Serif", "labelFontSize": 9, "labelColor": "#555",
      "tickColor": "#777", "tickSize": 5, "tickWidth": 1, "labelPadding": 3,
      "titleFont": "Liberation Serif", "titleColor": "#333"
    },
    "axisY": {
      "titleFontSize": 9.5, "titleFontWeight": "bold",
      "titleX": -55, "titleY": 50, "titleAngle": -90, "titleAlign": "center", "titleBaseline": "middle"
    },
    "axisX": {"titleFontSize": 9.5}
  }
}
